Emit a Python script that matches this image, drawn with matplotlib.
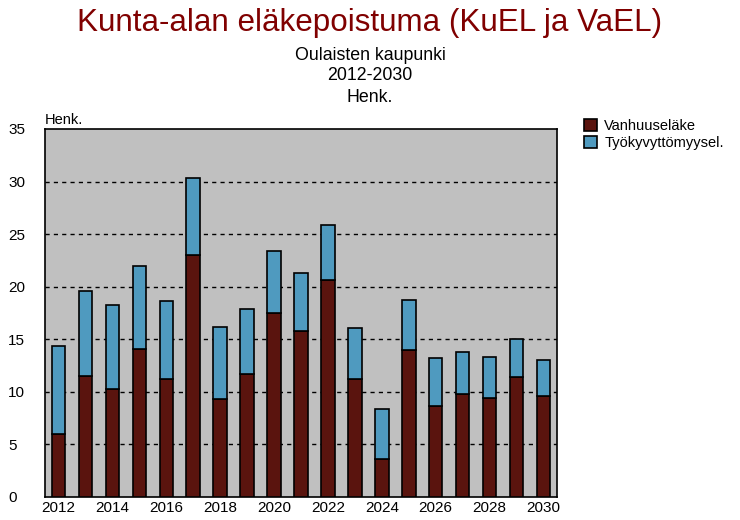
import matplotlib
matplotlib.use("Agg")
import matplotlib.pyplot as plt
import numpy as np

plt.rcParams['font.family'] = ['Liberation Sans', 'DejaVu Sans']

# data
years = list(range(2012, 2031))
vanhuus = [6.0, 11.5, 10.3, 14.1, 11.2, 23.0, 9.3, 11.7, 17.5, 15.8,
           20.6, 11.2, 3.6, 14.0, 8.7, 9.8, 9.4, 11.4, 9.6]
tyokyv = [8.4, 8.1, 8.0, 7.9, 7.4, 7.3, 6.85, 6.2, 5.9, 5.5,
          5.3, 4.9, 4.8, 4.7, 4.5, 4.0, 3.9, 3.6, 3.4]
yticks = [0, 5, 10, 15, 20, 25, 30, 35]

c_van = '#5A140E'
c_tyo = '#4F9ABF'

fig = plt.figure(figsize=(7.4, 5.2), dpi=100)
ax = fig.add_axes([45 / 740, 23 / 520, 512 / 740, 368 / 520])
ax.set_facecolor('#C0C0C0')

x = np.arange(len(years))
ax.bar(x, vanhuus, width=0.5, color=c_van, edgecolor='black', linewidth=1.2,
       label='Vanhuuseläke', zorder=3)
ax.bar(x, tyokyv, width=0.5, bottom=vanhuus, color=c_tyo, edgecolor='black',
       linewidth=1.2, label='Työkyvyttömyysel.', zorder=3)

ax.set_xlim(-0.5, len(years) - 0.5)
ax.set_ylim(0, 35)
ax.set_yticks(yticks)
ax.set_yticklabels([str(v) for v in yticks], ha='left')
ax.tick_params(axis='y', length=0, pad=26.5, labelsize=11)
ax.set_xticks(x[::2])
ax.set_xticklabels([str(y) for y in years[::2]])
ax.tick_params(axis='x', length=0, pad=3, labelsize=11)

# dashed grid lines
for v in yticks[1:-1]:
    ax.axhline(v, color='black', linestyle=(0, (3, 3)), linewidth=1, zorder=1)

for s in ax.spines.values():
    s.set_linewidth(1.2)

ax.text(0, 1.005, 'Henk.', transform=ax.transAxes, fontsize=10.5,
        ha='left', va='bottom')

fig.text(0.5, 1 - 23 / 520, 'Kunta-alan eläkepoistuma (KuEL ja VaEL)',
         ha='center', va='center', fontsize=22.6, color='#800000')
fig.text(0.5, 1 - 55 / 520, 'Oulaisten kaupunki', ha='center', va='center', fontsize=12.8)
fig.text(0.5, 1 - 76 / 520, '2012-2030', ha='center', va='center', fontsize=12.8)
fig.text(0.5, 1 - 98 / 520, 'Henk.', ha='center', va='center', fontsize=12.8)

leg = fig.legend(loc='upper left', bbox_to_anchor=(578 / 740, 1 - 113 / 520),
                 frameon=False, fontsize=10.5, handlelength=0.9, handleheight=0.9,
                 handletextpad=0.5, labelspacing=0.2, borderaxespad=0)

fig.savefig('out.png', dpi=100)
